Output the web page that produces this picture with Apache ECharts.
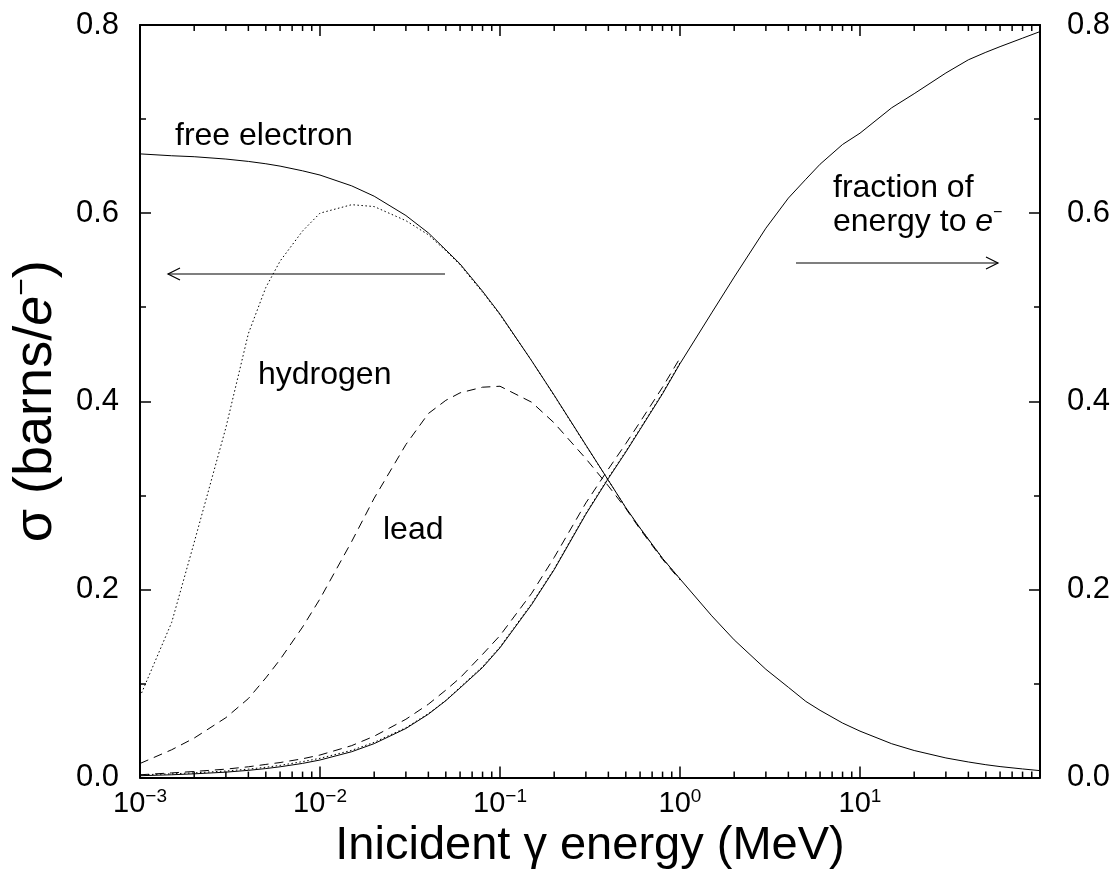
<!DOCTYPE html>
<html>
<head>
<meta charset="utf-8">
<script src="https://cdn.jsdelivr.net/npm/echarts@6/dist/echarts.min.js"></script>
<style>
html,body{margin:0;padding:0;background:#fff;}
#chart{width:1118px;height:875px;}
</style>
</head>
<body>
<div id="chart"></div>
<script>
// Photon energies (MeV)
const energies = [0.001,0.0015,0.002,0.003,0.004,0.005,0.006,0.008,0.01,0.015,0.02,0.03,0.04,0.05,0.06,0.08,0.1,0.15,0.2,0.3,0.4,0.5,0.6,0.8,1,1.5,2,3,4,5,6,8,10,15,20,30,40,50,60,80,100];

// Cross section per electron (barns/e-), left axis
const sigmaFreeElectron = [0.663,0.661,0.660,0.6575,0.655,0.6525,0.650,0.645,0.6405,0.629,0.618,0.5975,0.579,0.561,0.546,0.517,0.4927,0.443,0.4065,0.3535,0.316,0.2869,0.2653,0.233,0.2112,0.172,0.1464,0.1151,0.0960,0.0810,0.0715,0.058,0.0494,0.0360,0.0288,0.0209,0.0166,0.0137,0.0117,0.0092,0.0074];
const sigmaHydrogen = [0.086,0.165,0.250,0.372,0.472,0.521,0.549,0.581,0.600,0.609,0.607,0.592,0.577,0.560,0.545,0.516,0.492,0.443,0.406,0.353,0.316,0.2868,0.2652,0.233,0.2112];
const sigmaLead = [0.015,0.0296,0.042,0.0637,0.084,0.106,0.1255,0.160,0.190,0.251,0.297,0.354,0.387,0.401,0.409,0.415,0.416,0.399,0.377,0.339,0.310,0.286,0.264,0.232,0.210];

// Mean fraction of photon energy given to the electron, right axis
const fracFreeElectron = [0.002,0.003,0.004,0.0058,0.0077,0.0096,0.0115,0.0151,0.0187,0.0275,0.0361,0.0522,0.0674,0.0818,0.0953,0.117,0.138,0.184,0.221,0.280,0.318,0.346,0.370,0.408,0.440,0.494,0.532,0.584,0.616,0.636,0.652,0.673,0.685,0.712,0.727,0.749,0.763,0.771,0.777,0.786,0.793];
const fracHydrogen = [0.003,0.004,0.005,0.007,0.009,0.011,0.013,0.017,0.0205,0.029,0.0375,0.053,0.068,0.082,0.096,0.118,0.139,0.185,0.222,0.281,0.319,0.347,0.371,0.409,0.441];
const fracLead = [0.003,0.005,0.0065,0.009,0.0115,0.014,0.016,0.020,0.024,0.034,0.044,0.062,0.078,0.093,0.106,0.131,0.151,0.196,0.234,0.292,0.328,0.355,0.378,0.415,0.446];

// Axis ticks
const yTicks = ['0.0','0.2','0.4','0.6','0.8'];
const xDecades = [-3,-2,-1,0,1];
const xMinorMultipliers = [2,3,4,5,6,7,8,9];

const FONT = "'Liberation Sans', Arial, Helvetica, sans-serif";
const pairs = (xs, ys) => ys.map((y, i) => [xs[i], y]);
const minorVals = [];
xDecades.forEach(d => xMinorMultipliers.forEach(m => minorVals.push(m * Math.pow(10, d))));

const chart = echarts.init(document.getElementById('chart'), null, {renderer: 'canvas'});

const lineSeries = (name, data, yIdx, dash) => ({
  name, type: 'line', data, xAxisIndex: 0, yAxisIndex: yIdx,
  showSymbol: false, symbol: 'none', smooth: false, silent: true, z: 3,
  lineStyle: {color: '#000', width: 1, type: dash || 'solid'}
});

const yAxisBase = (pos, margin) => ({
  type: 'value', min: 0, max: 0.8, interval: 0.2, position: pos,
  axisLine: {show: true, onZero: false, lineStyle: {color: '#000', width: 2}},
  axisTick: {show: true, inside: true, length: 11, lineStyle: {color: '#000', width: 1.5}},
  minorTick: {show: true, splitNumber: 2, length: 6, lineStyle: {color: '#000', width: 1.5}},
  splitLine: {show: false}, minorSplitLine: {show: false},
  axisLabel: {
    formatter: v => yTicks[Math.round(v / 0.2)],
    fontSize: 31, fontFamily: FONT, color: '#000', margin: margin
  }
});

const option = {
  animation: false,
  backgroundColor: '#fff',
  grid: {left: 139, top: 25, width: 901, height: 754, containLabel: false},
  xAxis: [
    {
      type: 'log', logBase: 10, min: 0.001, max: 100, position: 'bottom',
      axisLine: {show: true, onZero: false, lineStyle: {color: '#000', width: 2}},
      axisTick: {show: true, inside: true, length: 11, lineStyle: {color: '#000', width: 1.5}},
      splitLine: {show: false},
      axisLabel: {
        showMinLabel: true, showMaxLabel: false, hideOverlap: false, margin: 10,
        formatter: v => {
          const n = Math.round(Math.log10(v));
          if (n >= 2) return '';
          return '{b|10}{s|' + (n < 0 ? '\u2212' + (-n) : String(n)) + '}';
        },
        rich: {
          b: {fontSize: 29, fontFamily: FONT, color: '#000', lineHeight: 32},
          s: {fontSize: 19, fontFamily: FONT, color: '#000', verticalAlign: 'top', lineHeight: 16}
        }
      },
      name: 'Inicident \u03b3 energy (MeV)', nameLocation: 'middle', nameGap: 41,
      nameTextStyle: {fontSize: 47, fontFamily: FONT, color: '#000'}
    },
    {
      type: 'log', logBase: 10, min: 0.001, max: 100, position: 'top',
      axisLine: {show: true, onZero: false, lineStyle: {color: '#000', width: 2}},
      axisTick: {show: true, inside: true, length: 11, lineStyle: {color: '#000', width: 1.5}},
      axisLabel: {show: false}, splitLine: {show: false}
    }
  ],
  yAxis: [
    Object.assign(yAxisBase('left', 21), {
      name: '{a|\u03c3 (barns/}{i|e}{s|\u2212}{a|)}',
      nameLocation: 'middle', nameGap: 76, nameRotate: 90,
      nameTextStyle: {
        color: '#000', fontFamily: FONT, fontSize: 54,
        rich: {
          a: {fontSize: 54, fontFamily: FONT, color: '#000', lineHeight: 56},
          i: {fontSize: 54, fontFamily: FONT, color: '#000', fontStyle: 'italic', lineHeight: 56},
          s: {fontSize: 30, fontFamily: FONT, color: '#000', verticalAlign: 'top', lineHeight: 26}
        }
      }
    }),
    yAxisBase('right', 27)
  ],
  series: [
    lineSeries('free electron', pairs(energies, sigmaFreeElectron), 0),
    lineSeries('hydrogen', pairs(energies, sigmaHydrogen), 0, [1.5, 2.5]),
    lineSeries('lead', pairs(energies, sigmaLead), 0, [9, 6]),
    lineSeries('fraction free electron', pairs(energies, fracFreeElectron), 1),
    lineSeries('fraction hydrogen', pairs(energies, fracHydrogen), 1, [1.5, 2.5]),
    lineSeries('fraction lead', pairs(energies, fracLead), 1, [9, 6]),
    {
      type: 'custom', xAxisIndex: 0, yAxisIndex: 0, silent: true, clip: false, z: 5,
      data: minorVals.map(v => [v, 0]),
      renderItem: (params, api) => {
        const v = api.value(0);
        const b = api.coord([v, 0]);
        const t = api.coord([v, 0.8]);
        return {type: 'group', children: [
          {type: 'line', shape: {x1: b[0], y1: b[1], x2: b[0], y2: b[1] - 6}, style: {stroke: '#000', lineWidth: 1.5}},
          {type: 'line', shape: {x1: t[0], y1: t[1], x2: t[0], y2: t[1] + 6}, style: {stroke: '#000', lineWidth: 1.5}}
        ]};
      }
    }
  ],
  graphic: [
    {type: 'text', left: 175, top: 120, style: {text: 'free electron', font: '32px ' + FONT, fill: '#000'}},
    {type: 'text', left: 258, top: 359, style: {text: 'hydrogen', font: '32px ' + FONT, fill: '#000'}},
    {type: 'text', left: 383, top: 514, style: {text: 'lead', font: '32px ' + FONT, fill: '#000'}},
    {type: 'text', left: 833, top: 172, style: {text: 'fraction of', font: '32px ' + FONT, fill: '#000'}},
    {type: 'text', left: 833, top: 205, style: {
      text: '{n|energy to }{i|e}{s|\u2212}',
      rich: {
        n: {fontSize: 32, fontFamily: FONT, fill: '#000', lineHeight: 34},
        i: {fontSize: 32, fontFamily: FONT, fill: '#000', fontStyle: 'italic', lineHeight: 34},
        s: {fontSize: 16, fontFamily: FONT, fill: '#000', verticalAlign: 'top', lineHeight: 14}
      }
    }},
    {type: 'line', shape: {x1: 445, y1: 274, x2: 168, y2: 274}, style: {stroke: '#000', lineWidth: 1.2}},
    {type: 'polyline', shape: {points: [[180, 268], [168, 274], [180, 280]]}, style: {stroke: '#000', lineWidth: 1.2, fill: null}},
    {type: 'line', shape: {x1: 796, y1: 263, x2: 998, y2: 263}, style: {stroke: '#000', lineWidth: 1.2}},
    {type: 'polyline', shape: {points: [[986, 257], [998, 263], [986, 269]]}, style: {stroke: '#000', lineWidth: 1.2, fill: null}}
  ]
};

chart.setOption(option);
</script>
</body>
</html>
